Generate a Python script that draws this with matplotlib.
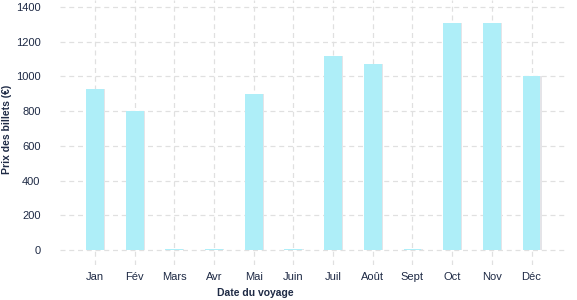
import matplotlib
matplotlib.use("Agg")
from matplotlib import pyplot as plt

months = ["Jan", "Fév", "Mars", "Avr", "Mai", "Juin", "Juil", "Août", "Sept", "Oct", "Nov", "Déc"]
prices = [930, 800, 5, 5, 900, 5, 1120, 1070, 5, 1305, 1305, 1000]
yticks = [0, 200, 400, 600, 800, 1000, 1200, 1400]

text_color = "#1e2a45"
bar_color = "#aeeef8"
grid_color = "#e0e0e0"

plt.rcParams["font.family"] = ["Liberation Sans", "DejaVu Sans"]

fig = plt.figure(figsize=(5.77, 3.0), dpi=100)
ax = fig.add_axes([0.104, 0.1167, 0.875, 0.8833])

x = list(range(len(months)))
# faint shadow behind each bar
ax.bar([i + 0.03 for i in x], prices, width=0.45, color="#e4e4e8", zorder=2)
ax.bar(x, prices, width=0.45, color=bar_color, zorder=3)

ax.set_xlim(-0.88, 11.84)
ax.set_ylim(-86, 1440)
ax.set_xticks(x)
ax.set_xticklabels(months)
ax.set_yticks(yticks)

for s in ax.spines.values():
    s.set_visible(False)
ax.tick_params(axis="both", length=0, labelsize=8, colors=text_color)
ax.tick_params(axis="x", pad=5)
ax.tick_params(axis="y", pad=14)

for t in yticks:
    ax.axhline(t, color=grid_color, lw=0.9, ls=(0, (4, 3)), zorder=1)
for i in x:
    ax.axvline(i, color=grid_color, lw=0.9, ls=(0, (4, 3)), zorder=1)

ax.set_xlabel("Date du voyage", fontsize=7.5, fontweight="bold", color=text_color)
ax.xaxis.set_label_coords(0.386, -0.085)
ax.set_ylabel("Prix des billets (€)", fontsize=7.5, fontweight="bold", color=text_color)
ax.yaxis.set_label_coords(-0.095, 0.51)

plt.savefig("out.png", dpi=100)
